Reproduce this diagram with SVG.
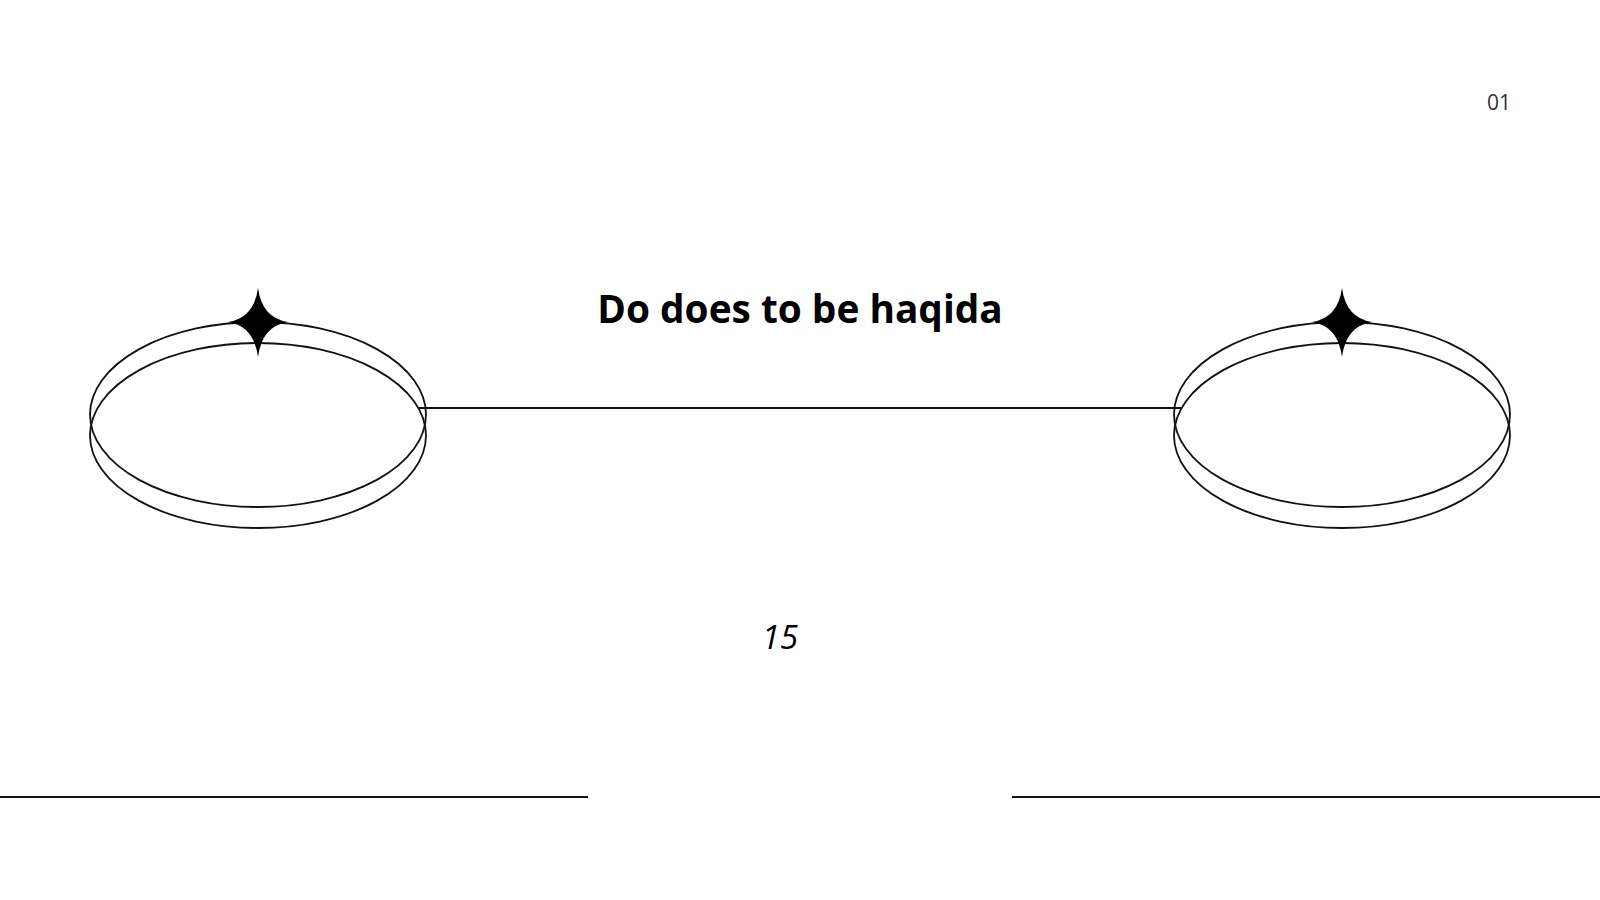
<svg xmlns="http://www.w3.org/2000/svg" width="1600" height="900" viewBox="0 0 1600 900">
<style>
.ring{fill:none;stroke:#111;stroke-width:1.8}
.star{fill:#000}
.ln{stroke:#111;stroke-width:1.8;fill:none}
.title{font-family:"Open Sans","Liberation Sans",sans-serif;font-weight:700;font-size:38.8px;fill:#000}
.num{font-family:"Open Sans","Liberation Sans",sans-serif;font-style:italic;font-size:33px;fill:#000}
.pg{font-family:"Open Sans","Liberation Sans",sans-serif;font-weight:500;font-size:21px;fill:#333}
</style>
<defs>
<path id="starShape" d="M0 -34 Q4 -4 30 0 Q4 4 0 35 Q-4 4 -30 0 Q-4 -4 0 -34 Z"/>
</defs>
<rect width="1600" height="900" fill="#fff"/>
<g id="connectors">
<line class="ln" x1="418" y1="408" x2="1182" y2="408"/>
<line class="ln" x1="0" y1="797" x2="588" y2="797"/>
<line class="ln" x1="1012" y1="797" x2="1600" y2="797"/>
</g>
<g id="node-left">
<ellipse class="ring" cx="258" cy="414.5" rx="168" ry="92.5"/>
<ellipse class="ring" cx="258" cy="435.5" rx="168" ry="92.5"/>
<use href="#starShape" class="star" x="258" y="322"/>
</g>
<g id="node-right">
<ellipse class="ring" cx="1342" cy="414.5" rx="168" ry="92.5"/>
<ellipse class="ring" cx="1342" cy="435.5" rx="168" ry="92.5"/>
<use href="#starShape" class="star" x="1342" y="322"/>
</g>
<g id="title">
<text class="title" x="800" y="323" text-anchor="middle">Do does to be haqida</text>
</g>
<g id="number">
<text class="num" x="780" y="649" text-anchor="middle">15</text>
</g>
<g id="page">
<text class="pg" x="1511" y="110" text-anchor="end">01</text>
</g>
</svg>
